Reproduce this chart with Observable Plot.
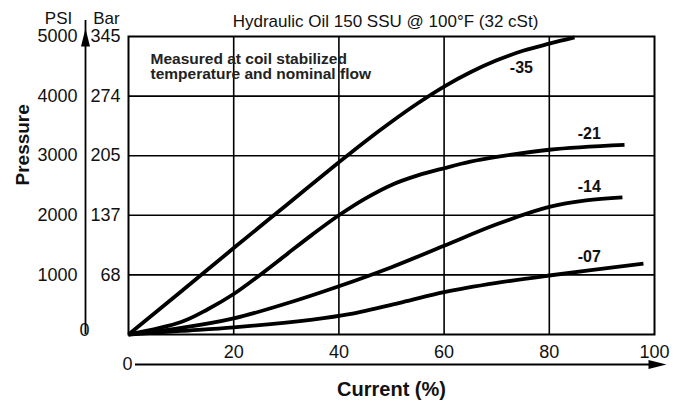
<!DOCTYPE html>
<html><head><meta charset="utf-8">
<script src="https://cdn.jsdelivr.net/npm/d3@7"></script>
<script src="https://cdn.jsdelivr.net/npm/@observablehq/plot@0.6"></script>
<style>body{margin:0;background:#fff;} #chart svg{display:block;}</style>
</head><body><div id="chart"></div>
<script>
// ---- data ----
const title = "Hydraulic Oil 150 SSU @ 100°F (32 cSt)";
const note = "Measured at coil stabilized\ntemperature and nominal flow";
const xLabel = "Current (%)";
const yLabel = "Pressure";
const psiTicks = [1000, 2000, 3000, 4000, 5000];
const barTicks = [68, 137, 205, 274, 345];
const xTicks = [20, 40, 60, 80, 100];
const gridXTicks = [20, 40, 60, 80];
const gridYTicks = [1000, 2000, 3000, 4000];

const x35 = [0, 10, 20, 30, 40, 45, 50, 55, 60, 65, 70, 75, 80, 84.8];
const y35 = [0, 720, 1450, 2170, 2890, 3240, 3570, 3880, 4160, 4400, 4600, 4760, 4880, 4985];
const x21 = [0, 10, 15, 20, 25, 30, 35, 40, 45, 50, 55, 60, 65, 70, 80, 94.3];
const y21 = [0, 210, 420, 680, 1000, 1340, 1680, 2000, 2280, 2510, 2670, 2790, 2900, 2980, 3100, 3180];
const x14 = [0, 10, 20, 30, 40, 50, 60, 70, 80, 87, 93.9];
const y14 = [0, 110, 270, 520, 810, 1130, 1490, 1850, 2140, 2250, 2300];
const x07 = [0, 10, 20, 35, 42, 52, 60, 70, 80, 97.9];
const y07 = [0, 60, 120, 250, 340, 540, 710, 865, 990, 1190];

const seriesNames = ["-35", "-21", "-14", "-07"];
const labelX = [74.7, 87.6, 87.6, 87.6];
const labelY = [4470, 3360, 2470, 1295];

// ---- build table ----
const seriesX = [x35, x21, x14, x07];
const seriesY = [y35, y21, y14, y07];
const rows = [];
seriesNames.forEach((s, i) => seriesX[i].forEach((x, j) => rows.push({series: s, x, y: seriesY[i][j]})));
const labels = seriesNames.map((s, i) => ({series: s, x: labelX[i], y: labelY[i]}));

const font = "'Liberation Sans', Arial, Helvetica, sans-serif";
const upHead = {draw(ctx) { ctx.moveTo(0, -9); ctx.lineTo(4.5, 9); ctx.lineTo(-4.5, 9); ctx.closePath(); }};
const rightHead = {draw(ctx) { ctx.moveTo(9, 0); ctx.lineTo(-9, 4.5); ctx.lineTo(-9, -4.5); ctx.closePath(); }};

const chart = Plot.plot({
  width: 680,
  height: 408,
  marginLeft: 128,
  marginRight: 26,
  marginTop: 36,
  marginBottom: 74,
  style: {fontFamily: font, fontSize: "18px", color: "#111", background: "#fff"},
  x: {domain: [0, 100]},
  y: {domain: [0, 5000]},
  marks: [
    Plot.gridX(gridXTicks, {stroke: "#000", strokeOpacity: 1, strokeWidth: 1.6}),
    Plot.gridY(gridYTicks, {stroke: "#000", strokeOpacity: 1, strokeWidth: 1.6}),
    Plot.frame({stroke: "#000", strokeWidth: 2}),
    // PSI axis
    Plot.axisY(psiTicks, {anchor: "left", tickSize: 0, tickPadding: 51, label: null, fontSize: 18, tickFormat: d => String(d)}),
    Plot.axisY([0], {anchor: "left", tickSize: 0, tickPadding: 44, textAnchor: "middle", dy: -4.5, label: null, fontSize: 18}),
    // Bar axis
    Plot.axisY(psiTicks, {anchor: "left", tickSize: 0, tickPadding: 8, label: null, fontSize: 18,
      tickFormat: d => String(barTicks[psiTicks.indexOf(d)])}),
    // X axis
    Plot.axisX(xTicks, {anchor: "bottom", tickSize: 0, tickPadding: 11, label: null, fontSize: 18}),
    Plot.axisX([0], {anchor: "bottom", tickSize: 0, tickPadding: 23, dx: -1, label: null, fontSize: 18}),
    // axis arrows
    Plot.ruleX([0], {y1: 0, y2: 5000, dx: -43, insetBottom: 16, stroke: "#000", strokeWidth: 1.8}),
    Plot.dot([5000], {x: () => 0, y: d => d, dx: -43, dy: 1, symbol: upHead, fill: "#000", stroke: "none"}),
    Plot.ruleY([0], {x1: 0, x2: 100, dy: 30, insetLeft: 7, insetRight: -4, stroke: "#000", strokeWidth: 1.8}),
    Plot.dot([100], {x: d => d, y: () => 0, dx: 3, dy: 30, symbol: rightHead, fill: "#000", stroke: "none"}),
    // curves
    Plot.line(rows, {x: "x", y: "y", z: "series", stroke: "#000", strokeWidth: 3.8, curve: "catmull-rom", strokeLinecap: "butt"}),
    Plot.text(labels, {x: "x", y: "y", text: "series", fontWeight: "bold", fontSize: 16, fill: "#111"}),
    // titles
    Plot.text([title], {frameAnchor: "top", dx: -6, dy: -22, fontSize: 17, fill: "#111"}),
    Plot.text(["PSI"], {frameAnchor: "top-left", dx: -70, dy: -25, fontSize: 17, textAnchor: "middle", fill: "#111"}),
    Plot.text(["Bar"], {frameAnchor: "top-left", dx: -22, dy: -25, fontSize: 17, textAnchor: "middle", fill: "#111"}),
    Plot.text([note], {frameAnchor: "top-left", dx: 22, dy: 16, textAnchor: "start", lineAnchor: "top", lineHeight: 1, fontWeight: "bold", fontSize: 15.5, fill: "#222"}),
    Plot.text([yLabel], {frameAnchor: "left", dx: -106, rotate: -90, fontWeight: "bold", fontSize: 19, fill: "#111"}),
    Plot.text([xLabel], {frameAnchor: "bottom", dy: 61, fontWeight: "bold", fontSize: 20, fill: "#111"})
  ]
});
document.getElementById("chart").append(chart);
</script></body></html>
